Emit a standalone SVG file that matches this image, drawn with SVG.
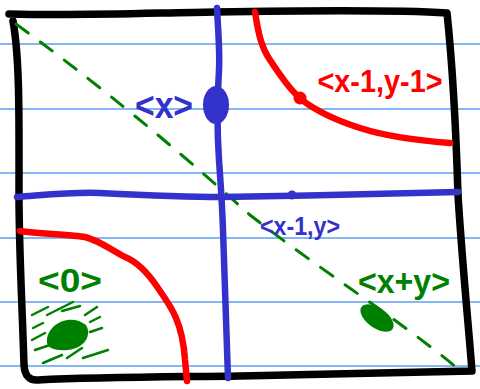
<svg xmlns="http://www.w3.org/2000/svg" width="480" height="389" viewBox="0 0 480 389">
<style>
.rule{stroke:#5aa0f0;stroke-width:1.5;fill:none}
.frame{stroke:#000;stroke-width:7.5;fill:none;stroke-linecap:round;stroke-linejoin:round}
.blue{stroke:#3333cc;stroke-width:6.5;fill:none;stroke-linecap:round;stroke-linejoin:round}
.red{stroke:#ff0000;stroke-width:6.5;fill:none;stroke-linecap:round;stroke-linejoin:round}
.dash{stroke:#008000;stroke-width:3;fill:none;stroke-linecap:round}
.hatch{stroke:#008000;stroke-width:2.5;fill:none;stroke-linecap:round}
.lbl{font-family:"Liberation Sans",Arial,sans-serif;font-weight:bold}
</style>
<rect width="480" height="389" fill="#fff"/>
<g id="rules">
<line class="rule" x1="0" y1="44" x2="480" y2="44"/>
<line class="rule" x1="0" y1="109" x2="480" y2="109"/>
<line class="rule" x1="0" y1="173" x2="480" y2="173"/>
<line class="rule" x1="0" y1="238" x2="480" y2="238"/>
<line class="rule" x1="0" y1="302" x2="480" y2="302"/>
<line class="rule" x1="0" y1="366" x2="480" y2="366"/>
</g>
<g id="frame">
<path class="frame" d="M9 14 C80 16 150 13 215 12 S400 10 447 13 C452 60 456 130 458 195 C462 260 468 320 472 371 C400 373 320 375 240 376 C170 377 100 377 38 380 Q25 381 24 365 C22 300 19 250 19 195 C19 120 20 60 13 21"/>
</g>
<g id="connectors">
<path class="dash" stroke-dasharray="15 15" d="M16 24 C120 100 200 170 250 215 C320 270 400 320 462 372"/>
<path class="blue" d="M217 8 C218 30 220 50 219 70 C217 100 217 130 219 160 C221 190 222 200 223 230 C225 290 227 340 228 378"/>
<path class="blue" d="M17 197 C45 195 70 192 100 193 C140 195 180 197 222 197 C300 196 400 193 458 192"/>
<path class="red" d="M255 12 C258 30 260 45 270 60 C280 75 290 90 302 100 C315 110 335 120 360 128 C385 136 410 140 450 143"/>
<path class="red" d="M20 231 C40 234 65 234 85 237 C100 241 110 249 125 257 C140 263 150 276 158 288 C165 298 172 308 176 318 C182 332 184 345 185 360 L187 381"/>
</g>
<g id="node-x">
<ellipse cx="216" cy="105" rx="13" ry="19" fill="#3333cc"/>
<text class="lbl" x="164" y="118" font-size="36" text-anchor="middle" fill="#3333cc" textLength="58" lengthAdjust="spacingAndGlyphs">&lt;x&gt;</text>
</g>
<g id="node-x-1-y-1">
<circle cx="300" cy="98" r="6.5" fill="#ff0000"/>
<text class="lbl" x="380" y="92" font-size="32" text-anchor="middle" fill="#ff0000" textLength="125" lengthAdjust="spacingAndGlyphs">&lt;x-1,y-1&gt;</text>
</g>
<g id="node-x-1-y">
<circle cx="292" cy="195" r="4.5" fill="#3333cc"/>
<text class="lbl" x="300" y="235" font-size="26" text-anchor="middle" fill="#3333cc" textLength="80" lengthAdjust="spacingAndGlyphs">&lt;x-1,y&gt;</text>
</g>
<g id="node-0">
<text class="lbl" x="70" y="292" font-size="33" text-anchor="middle" fill="#008000" textLength="64" lengthAdjust="spacingAndGlyphs">&lt;0&gt;</text>
<path d="M47 343 C45 325 70 312 86 325 C92 335 85 348 68 350 C55 351 48 348 47 343 Z" fill="#008000"/>
<g class="hatch">
<line x1="32" y1="315" x2="48" y2="307"/>
<line x1="47" y1="315" x2="73" y2="302"/>
<line x1="62" y1="311" x2="80" y2="306"/>
<line x1="85" y1="315" x2="97" y2="307"/>
<line x1="33" y1="328" x2="43" y2="323"/>
<line x1="90" y1="322" x2="100" y2="317"/>
<line x1="90" y1="332" x2="102" y2="328"/>
<line x1="32" y1="340" x2="45" y2="333"/>
<line x1="35" y1="350" x2="50" y2="345"/>
<line x1="43" y1="363" x2="62" y2="355"/>
<line x1="67" y1="358" x2="82" y2="348"/>
<line x1="83" y1="358" x2="108" y2="350"/>
</g>
</g>
<g id="node-x-plus-y">
<ellipse cx="377" cy="318" rx="19" ry="10" transform="rotate(35 377 318)" fill="#008000"/>
<text class="lbl" x="404" y="293" font-size="33" text-anchor="middle" fill="#008000" textLength="92" lengthAdjust="spacingAndGlyphs">&lt;x+y&gt;</text>
</g>
</svg>
